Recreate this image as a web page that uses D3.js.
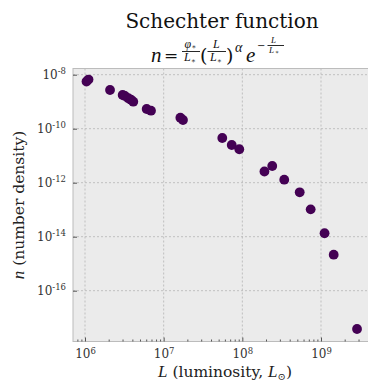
<!DOCTYPE html>
<html>
<head>
<meta charset="utf-8">
<script src="https://cdn.jsdelivr.net/npm/d3@7"></script>
<style>
  html, body { margin: 0; padding: 0; background: #ffffff; }
  svg { display: block; }
  text { font-family: "DejaVu Serif", serif; }
  .math { font-family: "Liberation Serif", "DejaVu Serif", serif; font-style: italic; }
</style>
</head>
<body>
<svg id="chart" width="368" height="381"></svg>
<script>
// Luminosity (solar units) and number density of each galaxy sample
const luminosity = [
  1.045e6, 1.108e6, 2.08e6, 3.01e6, 3.22e6, 3.55e6, 3.84e6, 4.11e6,
  6.08e6, 6.90e6, 1.63e7, 1.76e7, 5.56e7, 7.33e7, 9.15e7, 1.91e8,
  2.40e8, 3.41e8, 5.36e8, 7.39e8, 1.11e9, 1.45e9, 2.87e9
];
const density = [
  5.6e-9, 6.6e-9, 2.71e-9, 1.77e-9, 1.63e-9, 1.34e-9, 1.19e-9, 1.0e-9,
  5.37e-10, 4.65e-10, 2.55e-10, 2.10e-10, 4.53e-11, 2.49e-11, 1.73e-11, 2.6e-12,
  4.16e-12, 1.29e-12, 4.41e-13, 1.03e-13, 1.34e-14, 2.15e-15, 3.81e-18
];
const xTickExps = [6, 7, 8, 9];
const yTickExps = [-8, -10, -12, -14, -16];

const svg = d3.select("#chart");
const plot = { left: 73, right: 369, top: 68.5, bottom: 341.5 };

// Log scales anchored on decades, then widened to the plot frame
const x = d3.scaleLog().domain([1e6, 1e9]).range([85, 321]);
x.domain([x.invert(plot.left), x.invert(plot.right)]).range([plot.left, plot.right]);
const y = d3.scaleLog().domain([1e-8, 1e-16]).range([74.7, 290.7]);
y.domain([y.invert(plot.top), y.invert(plot.bottom)]).range([plot.top, plot.bottom]);

// Panel background
svg.append("rect")
  .attr("x", plot.left).attr("y", plot.top)
  .attr("width", plot.right - plot.left).attr("height", plot.bottom - plot.top)
  .attr("fill", "#ebebeb");

const xMajor = xTickExps.map(e => Math.pow(10, e));
const yMajor = yTickExps.map(e => Math.pow(10, e));

// Dashed grid
const grid = svg.append("g").attr("stroke", "#b4b4b4").attr("stroke-width", 0.8)
  .attr("stroke-dasharray", "2,2");
grid.selectAll("line.gx").data(xMajor).join("line")
  .attr("x1", d => x(d)).attr("x2", d => x(d))
  .attr("y1", plot.top).attr("y2", plot.bottom);
grid.selectAll("line.gy").data(yMajor).join("line")
  .attr("x1", plot.left).attr("x2", plot.right)
  .attr("y1", d => y(d)).attr("y2", d => y(d));

// Frame
svg.append("rect")
  .attr("x", plot.left).attr("y", plot.top)
  .attr("width", plot.right - plot.left).attr("height", plot.bottom - plot.top)
  .attr("fill", "none").attr("stroke", "#bcbcbc").attr("stroke-width", 1);

// Data points
svg.append("g").selectAll("circle")
  .data(luminosity.map((l, i) => [l, density[i]]))
  .join("circle")
  .attr("cx", d => x(d[0])).attr("cy", d => y(d[1]))
  .attr("r", 4.9)
  .attr("fill", "#440154");

function powerLabel(sel) {
  sel.selectAll(".tick text").each(function(d) {
    const t = d3.select(this);
    const e = Math.round(Math.log10(d));
    t.text(null);
    t.append("tspan").text("10");
    t.append("tspan").attr("dy", "-0.55em").attr("font-size", "8.5px")
      .text(e < 0 ? "-" + (-e) : String(e));
  });
}

// X axis: major ticks with labels, minor ticks inside
const xAxis = svg.append("g").attr("transform", `translate(0,${plot.bottom})`)
  .call(d3.axisBottom(x).tickValues(xMajor).tickSizeInner(-4).tickSizeOuter(0).tickPadding(6));
xAxis.select(".domain").remove();
xAxis.selectAll(".tick line").attr("stroke", "#555").attr("stroke-width", 1);
xAxis.selectAll(".tick text").attr("font-size", "12px").attr("fill", "#333")
  .attr("font-family", "DejaVu Serif").attr("dy", "0.9em");
powerLabel(xAxis);

const xMinor = x.ticks().filter(v => {
  const m = v / Math.pow(10, Math.floor(Math.log10(v) + 1e-9));
  return Math.abs(m - 1) > 1e-6;
});
const xMinorAxis = svg.append("g").attr("transform", `translate(0,${plot.bottom})`)
  .call(d3.axisBottom(x).tickValues(xMinor).tickSizeInner(-2).tickSizeOuter(0).tickFormat(""));
xMinorAxis.select(".domain").remove();
xMinorAxis.selectAll(".tick line").attr("stroke", "#555").attr("stroke-width", 1);

// Y axis
const yAxis = svg.append("g").attr("transform", `translate(${plot.left},0)`)
  .call(d3.axisLeft(y).tickValues(yMajor).tickSizeInner(-4).tickSizeOuter(0).tickPadding(7));
yAxis.select(".domain").remove();
yAxis.selectAll(".tick line").attr("stroke", "#555").attr("stroke-width", 1);
yAxis.selectAll(".tick text").attr("font-size", "12px").attr("fill", "#333")
  .attr("font-family", "DejaVu Serif");
powerLabel(yAxis);

// Axis titles
const xt = svg.append("text").attr("x", 225).attr("y", 377).attr("text-anchor", "middle")
  .attr("font-size", "15.5px").attr("fill", "#222");
xt.append("tspan").attr("class", "math").attr("font-size", "17px").text("L");
xt.append("tspan").text(" (luminosity, ");
xt.append("tspan").attr("class", "math").attr("font-size", "17px").text("L");
xt.append("tspan").attr("font-size", "10px").attr("dy", "3").text("⊙");
xt.append("tspan").attr("dy", "-3").text(")");

const yt = svg.append("text").attr("transform", "translate(24,205) rotate(-90)")
  .attr("text-anchor", "middle").attr("font-size", "15.5px").attr("fill", "#222");
yt.append("tspan").attr("class", "math").attr("font-size", "17px").text("n");
yt.append("tspan").text(" (number density)");

// Title and the Schechter formula
svg.append("text").attr("x", 222).attr("y", 28).attr("text-anchor", "middle")
  .attr("font-size", "20px").attr("fill", "#111").text("Schechter function");

const f = svg.append("g").attr("fill", "#111");
function ft(xp, yp, size, str, italic) {
  f.append("text").attr("x", xp).attr("y", yp).attr("font-size", size + "px")
    .attr("class", italic ? "math" : null).text(str);
}
function bar(x1, x2, yp) {
  f.append("line").attr("x1", x1).attr("x2", x2).attr("y1", yp).attr("y2", yp)
    .attr("stroke", "#111").attr("stroke-width", 0.9);
}
ft(151, 62, 21, "n", true);
ft(164, 61, 17, "=", false);
ft(184.5, 47.5, 12, "φ", true); ft(191.5, 49, 7, "∗", false);
bar(182, 200, 51.5);
ft(184, 61, 12, "L", true); ft(191, 63, 7, "∗", false);
ft(200, 62, 19, "(", false);
ft(213, 47.5, 12, "L", true);
bar(207.5, 226, 51.5);
ft(210, 61, 12, "L", true); ft(217, 63, 7, "∗", false);
ft(226, 62, 19, ")", false);
ft(235, 52, 14, "α", true);
ft(246, 62, 21, "e", true);
ft(257, 49, 10, "−", false);
ft(271, 43, 9, "L", true);
bar(267.5, 284, 45.5);
ft(269, 53, 9, "L", true); ft(275, 54, 6, "∗", false);
</script>
</body>
</html>
